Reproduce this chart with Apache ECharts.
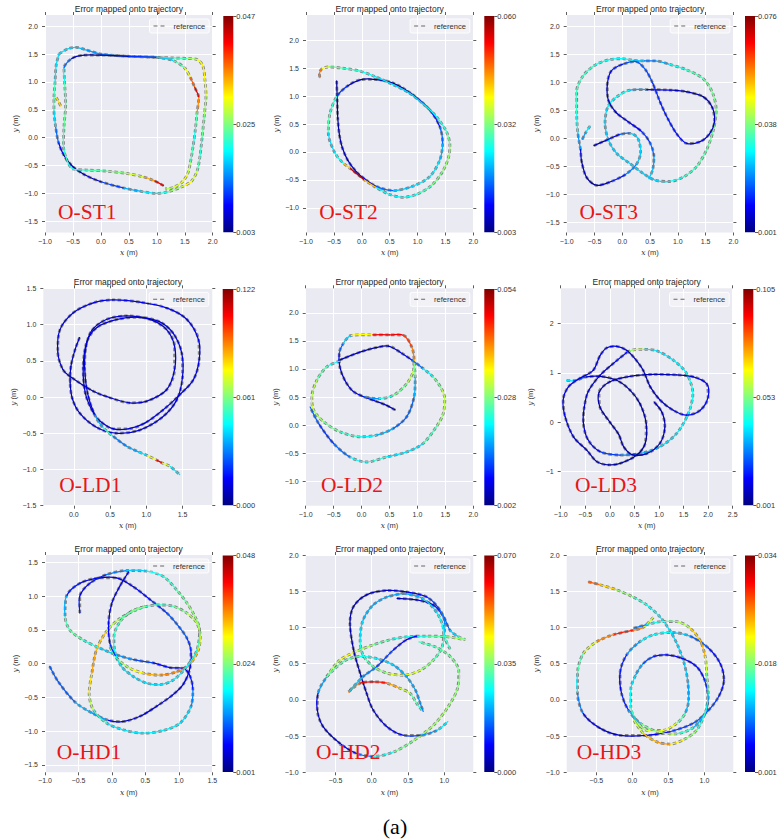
<!DOCTYPE html>
<html><head><meta charset="utf-8">
<script src="https://cdn.jsdelivr.net/npm/echarts@6/dist/echarts.min.js"></script>
<style>html,body{margin:0;padding:0;background:#fff}#c{width:781px;height:839px}</style>
</head><body><div id="c"></div>
<script>
// ---------------- DATA ----------------
const xRangeST1=[-1,2], yRangeST1=[-1.7,2.2];
const xTicksST1=[-1,-0.5,0,0.5,1,1.5,2], yTicksST1=[-1.5,-1,-0.5,0,0.5,1,1.5,2];
const cbRangeST1=[0.003,0.047], cbLabelsST1=['0.003','0.025','0.047'];
const trajST1=[
 [[-0.75,1.5,.018],[-0.6,1.59,.018],[-0.45,1.62,.017],[-0.25,1.57,.016],[0.0,1.5,.014],[0.5,1.46,.015],[1.0,1.44,.018],[1.3,1.43,.021],[1.55,1.42,.024],[1.72,1.4,.029],[1.82,1.3,.031],[1.86,1.05,.031],[1.88,0.75,.028],[1.85,0.4,.025],[1.81,0.0,.023],[1.77,-0.35,.02],[1.72,-0.6,.026],[1.62,-0.78,.031],[1.45,-0.88,.03],[1.2,-0.97,.022],[1.0,-1.0,.019],[0.7,-0.96,.018],[0.4,-0.9,.014],[0.0,-0.79,.008],[-0.3,-0.66,.005],[-0.5,-0.52,.004],[-0.66,-0.32,.006],[-0.76,-0.08,.01],[-0.81,0.2,.016],[-0.84,0.5,.02],[-0.84,0.7,.026],[-0.82,1.0,.019],[-0.8,1.3,.018],[-0.75,1.5,.018]],
 [[1.12,-0.86,.047],[0.95,-0.77,.038],[0.75,-0.7,.031],[0.45,-0.64,.026],[0.1,-0.6,.024],[-0.25,-0.58,.022],[-0.5,-0.56,.021],[-0.6,-0.42,.021],[-0.67,-0.15,.022],[-0.66,0.2,.024],[-0.63,0.6,.024],[-0.65,1.0,.022],[-0.66,1.25,.018],[-0.52,1.42,.008],[-0.3,1.48,.004],[0.0,1.48,.004],[0.5,1.46,.006],[1.0,1.44,.015],[1.3,1.38,.02],[1.5,1.25,.026],[1.6,1.08,.034],[1.68,0.9,.041],[1.75,0.72,.045],[1.72,0.45,.026],[1.69,0.15,.02],[1.65,-0.15,.02],[1.6,-0.45,.025],[1.55,-0.65,.03],[1.45,-0.8,.03],[1.3,-0.89,.028],[1.15,-0.92,.026]],
 [[-0.72,0.57,.032],[-0.76,0.65,.033],[-0.8,0.72,.03]]
];

const xRangeST2=[-1,2], yRangeST2=[-1.44,2.45];
const xTicksST2=[-1,-0.5,0,0.5,1,1.5,2], yTicksST2=[-1,-0.5,0,0.5,1,1.5,2];
const cbRangeST2=[0.003,0.060], cbLabelsST2=['0.003','0.032','0.060'];
const trajST2=[
 [[-0.45,1.27,.004],[-0.44,0.93,.004],[-0.43,0.6,.005],[-0.4,0.3,.005],[-0.35,0.08,.006],[-0.25,-0.15,.007],[-0.1,-0.35,.008],[0.05,-0.48,.008],[0.27,-0.62,.012],[0.57,-0.69,.02],[0.92,-0.61,.022],[1.22,-0.44,.024],[1.4,-0.14,.022],[1.45,0.16,.018],[1.4,0.45,.014],[1.22,0.75,.008],[0.92,1.02,.005],[0.57,1.23,.005],[0.21,1.3,.005],[-0.03,1.29,.005],[-0.27,1.17,.008],[-0.45,0.99,.018],[-0.57,0.69,.036],[-0.6,0.34,.022],[-0.48,-0.02,.022],[-0.33,-0.2,.028],[-0.2,-0.3,.055],[0.05,-0.5,.058],[0.25,-0.63,.026],[0.5,-0.76,.024],[0.75,-0.81,.024],[1.0,-0.75,.026],[1.25,-0.6,.03],[1.45,-0.35,.032],[1.56,-0.08,.033],[1.58,0.12,.032],[1.52,0.36,.028],[1.34,0.63,.025],[1.1,0.86,.023],[0.86,1.05,.022],[0.57,1.2,.022],[0.21,1.36,.024],[-0.05,1.45,.026],[-0.35,1.5,.028],[-0.6,1.52,.032],[-0.72,1.48,.045],[-0.76,1.4,.048],[-0.75,1.33,.045]]
];

const xRangeST3=[-1,2], yRangeST3=[-1.68,2.2];
const xTicksST3=[-1,-0.5,0,0.5,1,1.5,2], yTicksST3=[-1.5,-1,-0.5,0,0.5,1,1.5,2];
const cbRangeST3=[0.001,0.076], cbLabelsST3=['0.001','0.038','0.076'];
const trajST3=[
 [[-0.75,-0.2,.015],[-0.8,0.1,.028],[-0.82,0.45,.032],[-0.82,0.85,.034],[-0.7,1.12,.034],[-0.5,1.3,.032],[-0.25,1.4,.03],[0.0,1.42,.028],[0.2,1.39,.03],[0.4,1.38,.02],[0.6,1.38,.018],[0.85,1.32,.028],[1.16,1.22,.033],[1.46,1.06,.036],[1.63,0.8,.038],[1.69,0.5,.038],[1.64,0.15,.037],[1.52,-0.2,.036],[1.34,-0.5,.035],[1.1,-0.69,.032],[0.86,-0.77,.028],[0.6,-0.75,.025],[0.38,-0.63,.026],[0.14,-0.45,.026],[-0.1,-0.27,.026],[-0.25,-0.03,.025],[-0.31,0.27,.025],[-0.26,0.56,.027],[-0.1,0.74,.03],[0.14,0.86,.03],[0.44,0.87,.015],[0.86,0.86,.006],[1.16,0.83,.004],[1.46,0.74,.004],[1.62,0.55,.005],[1.66,0.3,.006],[1.57,0.08,.007],[1.4,-0.06,.008],[1.16,-0.09,.01],[0.98,0.08,.012],[0.82,0.35,.012],[0.68,0.65,.012],[0.55,0.98,.014],[0.42,1.22,.016],[0.25,1.37,.018],[0.0,1.32,.014],[-0.2,1.2,.01],[-0.27,0.95,.006],[-0.25,0.68,.005],[-0.12,0.47,.006],[0.1,0.3,.008],[0.35,0.12,.012],[0.5,-0.08,.015],[0.57,-0.32,.02],[0.55,-0.55,.024],[0.48,-0.72,.026]],
 [[-0.51,-0.13,.004],[-0.3,-0.04,.006],[-0.04,0.07,.012],[0.14,0.09,.025],[0.28,0.0,.026],[0.33,-0.25,.026],[0.25,-0.47,.024],[0.05,-0.65,.016],[-0.2,-0.77,.008],[-0.45,-0.84,.004],[-0.64,-0.7,.004],[-0.73,-0.42,.005],[-0.75,-0.2,.01]],
 [[-0.58,0.22,.03],[-0.66,0.1,.025],[-0.72,-0.02,.018]]
];

const xRangeLD1=[-0.42,1.91], yRangeLD1=[-1.5,1.5];
const xTicksLD1=[0,0.5,1,1.5], yTicksLD1=[-1.5,-1,-0.5,0,0.5,1,1.5];
const cbRangeLD1=[0.000,0.122], cbLabelsLD1=['0.000','0.061','0.122'];
const trajLD1=[
 [[0.08,0.82,.008],[0.02,0.66,.008],[-0.04,0.42,.008],[-0.05,0.2,.008],[-0.02,-0.02,.008],[0.08,-0.22,.008],[0.3,-0.41,.01],[0.58,-0.5,.01],[0.9,-0.46,.01],[1.22,-0.28,.01],[1.42,-0.04,.01],[1.5,0.28,.01],[1.49,0.6,.01],[1.37,0.88,.01],[1.18,1.04,.01],[0.9,1.1,.01],[0.6,1.07,.01],[0.32,0.96,.01],[0.18,0.76,.01],[0.13,0.4,.01],[0.16,0.05,.01],[0.26,-0.2,.01],[0.36,-0.33,.01],[0.55,-0.44,.01],[0.75,-0.44,.01],[0.98,-0.36,.012],[1.23,-0.18,.012],[1.46,0.03,.012],[1.65,0.24,.012],[1.73,0.52,.012],[1.72,0.79,.012],[1.56,1.07,.012],[1.28,1.23,.012],[0.91,1.31,.014],[0.54,1.34,.014],[0.27,1.3,.012],[-0.01,1.16,.01],[-0.19,0.93,.01],[-0.22,0.62,.01],[-0.15,0.38,.008],[-0.03,0.27,.006],[0.27,0.08,.006],[0.5,-0.01,.008],[0.77,-0.08,.008],[1.0,-0.06,.008],[1.28,0.1,.01],[1.39,0.38,.01],[1.39,0.7,.01],[1.28,0.93,.01],[1.05,1.07,.01],[0.73,1.12,.01],[0.45,1.07,.01],[0.25,0.92,.01],[0.17,0.7,.01],[0.15,0.4,.01],[0.19,0.05,.01],[0.29,-0.25,.012],[0.4,-0.42,.06],[0.54,-0.54,.045],[0.73,-0.68,.015],[0.9,-0.76,.055],[1.02,-0.81,.03],[1.14,-0.87,.12],[1.22,-0.91,.1],[1.33,-0.96,.045],[1.46,-1.07,.04]]
];

const xRangeLD2=[-1,2], yRangeLD2=[-1.44,2.44];
const xTicksLD2=[-1,-0.5,0,0.5,1,1.5,2], yTicksLD2=[-1,-0.5,0,0.5,1,1.5,2];
const cbRangeLD2=[0.002,0.054], cbLabelsLD2=['0.002','0.028','0.054'];
const trajLD2=[
 [[0.6,0.27,.004],[0.45,0.35,.004],[0.27,0.42,.006],[0.05,0.5,.008],[-0.15,0.6,.006],[-0.3,0.8,.005],[-0.39,1.04,.006],[-0.4,1.28,.01],[-0.33,1.45,.016],[-0.18,1.6,.022],[0.2,1.61,.047],[0.5,1.61,.049],[0.75,1.6,.047],[0.9,1.39,.042],[0.94,1.16,.04],[0.93,0.98,.034],[0.81,0.74,.028],[0.57,0.53,.026],[0.3,0.47,.02],[0.05,0.5,.012]],
 [[-0.39,1.14,.02],[-0.62,1.04,.024],[-0.8,0.8,.028],[-0.89,0.5,.033],[-0.86,0.27,.031],[-0.68,0.06,.028],[-0.39,-0.12,.026],[-0.03,-0.21,.022],[0.27,-0.18,.02],[0.57,-0.06,.015],[0.81,0.15,.012],[0.94,0.5,.015],[0.96,0.86,.02],[0.94,1.1,.035]],
 [[-0.39,1.16,.006],[-0.03,1.3,.005],[0.25,1.38,.004],[0.48,1.41,.004],[0.69,1.3,.006],[0.9,1.16,.01],[1.1,1.01,.018],[1.28,0.86,.024],[1.43,0.65,.03],[1.49,0.47,.032],[1.46,0.2,.03],[1.34,-0.03,.028],[1.1,-0.33,.022],[0.81,-0.48,.018],[0.45,-0.57,.022],[0.09,-0.66,.025],[-0.21,-0.57,.018],[-0.5,-0.33,.01],[-0.77,0.03,.012],[-0.92,0.32,.015]]
];

const xRangeLD3=[-1,2.5], yRangeLD3=[-1.7,2.72];
const xTicksLD3=[-1,-0.5,0,0.5,1,1.5,2,2.5], yTicksLD3=[-1,0,1,2];
const cbRangeLD3=[0.001,0.105], cbLabelsLD3=['0.001','0.053','0.105'];
const trajLD3=[
 [[0.35,1.42,.03],[0.48,1.47,.08],[0.7,1.48,.04],[0.95,1.45,.036],[1.29,1.26,.038],[1.56,0.99,.04],[1.69,0.58,.042],[1.6,0.18,.04],[1.36,-0.23,.038],[1.02,-0.5,.035],[0.61,-0.64,.03],[0.21,-0.67,.025],[-0.2,-0.6,.015],[-0.45,-0.35,.01],[-0.54,0.0,.008],[-0.52,0.3,.008],[-0.44,0.62,.008],[-0.2,0.95,.008],[0.14,1.25,.01],[0.35,1.42,.02]],
 [[-0.88,0.85,.04],[-0.74,0.84,.035],[-0.47,0.92,.01],[-0.2,0.93,.005],[0.14,0.85,.004],[0.41,0.65,.004],[0.61,0.38,.004],[0.74,-0.03,.004],[0.72,-0.43,.004],[0.55,-0.67,.004],[0.21,-0.84,.004],[-0.03,-0.87,.004],[-0.27,-0.8,.005],[-0.47,-0.57,.006],[-0.74,-0.3,.008],[-0.91,0.11,.01],[-0.95,0.45,.012],[-0.84,0.72,.012],[-0.61,0.89,.01],[-0.34,1.05,.01],[-0.2,1.35,.012],[-0.06,1.51,.012],[0.14,1.54,.012],[0.34,1.46,.01],[0.51,1.29,.008],[0.68,1.05,.006],[0.82,0.72,.006],[1.02,0.45,.008],[1.29,0.24,.01],[1.56,0.14,.015],[1.84,0.24,.015],[2.0,0.51,.015],[1.97,0.78,.012],[1.7,0.92,.01],[1.36,0.96,.008],[0.89,0.97,.006],[0.41,0.93,.006],[0.0,0.82,.006],[-0.22,0.6,.005],[-0.2,0.3,.004],[0.0,0.0,.004],[0.18,-0.25,.004],[0.28,-0.5,.004],[0.45,-0.66,.005],[0.75,-0.64,.006],[1.02,-0.43,.006],[1.12,-0.1,.006],[1.06,0.2,.006],[0.9,0.41,.006]]
];

const xRangeHD1=[-1,1.5], yRangeHD1=[-1.61,1.61];
const xTicksHD1=[-1,-0.5,0,0.5,1,1.5], yTicksHD1=[-1.5,-1,-0.5,0,0.5,1,1.5];
const cbRangeHD1=[0.001,0.048], cbLabelsHD1=['0.001','0.024','0.048'];
const trajHD1=[
 [[-0.93,-0.04,.012],[-0.8,-0.27,.01],[-0.55,-0.57,.012],[-0.3,-0.73,.018],[-0.05,-0.84,.01],[0.15,-0.86,.004],[0.42,-0.78,.004],[0.67,-0.63,.005],[0.9,-0.47,.005],[1.07,-0.3,.006],[1.17,-0.05,.006],[1.18,0.2,.008],[1.12,0.38,.01],[1.0,0.55,.012],[0.82,0.75,.01],[0.57,0.95,.008],[0.32,1.14,.006],[0.07,1.27,.005],[-0.18,1.27,.005],[-0.48,1.19,.006],[-0.68,1.0,.01],[-0.7,0.7,.02],[-0.63,0.5,.024],[-0.43,0.35,.022],[-0.18,0.23,.018],[0.07,0.13,.015],[0.32,0.06,.012],[0.62,0.01,.008],[0.87,-0.06,.006],[1.07,-0.07,.005],[1.17,-0.19,.006],[1.21,-0.39,.01],[1.18,-0.64,.016],[1.02,-0.88,.018],[0.77,-0.99,.018],[0.47,-1.03,.018],[0.17,-0.98,.017],[-0.08,-0.88,.018],[-0.28,-0.68,.024],[-0.34,-0.44,.03],[-0.3,-0.14,.033],[-0.23,0.21,.036],[-0.08,0.48,.03],[0.12,0.67,.024],[0.42,0.82,.022],[0.67,0.87,.02],[0.92,0.85,.022],[1.12,0.75,.026],[1.27,0.6,.028],[1.32,0.4,.028],[1.29,0.2,.03],[1.17,0.0,.036],[0.97,-0.12,.036],[0.72,-0.17,.036],[0.47,-0.14,.032],[0.27,-0.07,.028],[0.07,0.08,.024],[-0.03,0.25,.022]],
 [[-0.48,0.75,.01],[-0.48,1.0,.006],[-0.33,1.19,.006],[-0.08,1.32,.01],[0.22,1.38,.015],[0.52,1.37,.018],[0.77,1.29,.02],[0.97,1.09,.022],[1.12,0.9,.024],[1.24,0.7,.026],[1.31,0.5,.024],[1.27,0.2,.02],[1.12,-0.04,.018],[0.92,-0.24,.018],[0.72,-0.31,.017],[0.52,-0.29,.017],[0.32,-0.19,.017],[0.15,-0.05,.017],[0.05,0.15,.018],[0.03,0.4,.02],[0.12,0.62,.022],[0.3,0.78,.024],[0.5,0.85,.025]],
 [[0.25,1.36,.006],[0.12,1.15,.005],[0.0,0.9,.005],[-0.05,0.6,.006],[-0.03,0.3,.008],[0.05,0.12,.01]]
];

const xRangeHD2=[-0.91,1.4], yRangeHD2=[-1,2];
const xTicksHD2=[-0.5,0,0.5,1], yTicksHD2=[-1,-0.5,0,0.5,1,1.5,2];
const cbRangeHD2=[0.000,0.070], cbLabelsHD2=['0.000','0.035','0.070'];
const trajHD2=[
 [[0.35,1.4,.003],[0.62,1.38,.004],[0.85,1.31,.008],[0.99,1.15,.012],[1.08,0.96,.018],[1.2,0.87,.028],[1.29,0.83,.04],[1.05,0.87,.035],[0.76,0.88,.03],[0.48,0.87,.026],[0.25,0.83,.03],[0.02,0.76,.035],[-0.21,0.67,.04],[-0.44,0.55,.046],[-0.62,0.32,.03],[-0.74,0.09,.01],[-0.75,-0.14,.005],[-0.67,-0.37,.003],[-0.44,-0.6,.004],[-0.21,-0.74,.01],[0.02,-0.78,.022],[0.3,-0.72,.032],[0.58,-0.56,.036],[0.85,-0.35,.038],[1.05,-0.1,.036],[1.18,0.15,.036],[1.2,0.4,.035],[1.08,0.6,.034],[0.88,0.73,.032],[0.65,0.8,.03]],
 [[1.08,0.7,.035],[1.0,0.9,.025],[1.01,1.05,.02],[0.94,1.24,.015],[0.76,1.42,.01],[0.48,1.49,.006],[0.21,1.51,.004],[-0.07,1.45,.003],[-0.25,1.29,.003],[-0.3,1.06,.003],[-0.25,0.69,.003],[-0.16,0.37,.003],[-0.07,0.09,.003],[0.02,-0.14,.004],[0.21,-0.37,.006],[0.44,-0.49,.01],[0.67,-0.49,.015],[0.9,-0.42,.022],[1.05,-0.3,.028]],
 [[0.44,1.47,.02],[0.7,1.4,.022],[0.9,1.2,.025],[0.99,0.95,.028],[0.97,0.73,.03],[0.85,0.55,.033],[0.67,0.41,.038],[0.44,0.34,.044],[0.21,0.37,.038],[0.02,0.46,.033],[-0.12,0.62,.03],[-0.16,0.83,.026],[-0.12,1.1,.022],[0.02,1.31,.02],[0.21,1.42,.02],[0.44,1.47,.02]],
 [[-0.32,0.11,.045],[-0.16,0.23,.06],[0.02,0.25,.065],[0.21,0.23,.055],[0.39,0.16,.045],[0.53,0.09,.035],[0.62,-0.05,.03],[0.69,-0.14,.028]],
 [[-0.62,0.32,.03],[-0.39,0.53,.035],[-0.16,0.6,.03],[0.07,0.57,.025],[0.3,0.48,.022],[0.48,0.32,.02],[0.6,0.14,.02],[0.67,-0.05,.018],[0.71,-0.16,.018]],
 [[-0.3,0.13,.025],[-0.12,0.32,.02],[0.07,0.46,.015],[0.3,0.69,.01],[0.48,0.83,.008],[0.62,0.88,.01]]
];

const xRangeHD3=[-0.91,1.4], yRangeHD3=[-1,2];
const xTicksHD3=[-0.5,0,0.5,1], yTicksHD3=[-1,-0.5,0,0.5,1,1.5,2];
const cbRangeHD3=[0.001,0.034], cbLabelsHD3=['0.001','0.018','0.034'];
const trajHD3=[
 [[-0.61,1.63,.028],[-0.45,1.59,.026],[-0.22,1.52,.02],[0.01,1.42,.016],[0.2,1.31,.014],[0.38,1.15,.013],[0.52,0.96,.012],[0.63,0.75,.012],[0.72,0.5,.012],[0.77,0.25,.011],[0.78,0.0,.01],[0.73,-0.19,.012],[0.62,-0.32,.02],[0.43,-0.42,.022],[0.2,-0.42,.02],[0.06,-0.3,.017],[-0.02,-0.1,.014],[-0.02,0.15,.013],[0.05,0.35,.012],[0.15,0.5,.009],[0.3,0.6,.006],[0.48,0.62,.005],[0.7,0.57,.005],[0.89,0.46,.005],[1.0,0.28,.006],[1.05,0.05,.007],[1.03,-0.14,.008]],
 [[0.29,1.14,.018],[0.15,1.0,.022],[0.0,0.96,.03],[-0.26,0.9,.028],[-0.5,0.8,.023],[-0.68,0.64,.018],[-0.76,0.37,.014],[-0.76,0.09,.012],[-0.68,-0.19,.006],[-0.45,-0.39,.003],[-0.17,-0.49,.003],[0.2,-0.49,.004],[0.52,-0.44,.006],[0.85,-0.32,.008],[1.05,-0.15,.008],[1.2,0.05,.006],[1.27,0.27,.005],[1.22,0.5,.005],[1.05,0.72,.006],[0.8,0.88,.01],[0.55,0.93,.013],[0.3,0.9,.014],[0.1,0.8,.012],[-0.08,0.62,.008],[-0.17,0.37,.004],[-0.15,0.09,.004],[-0.05,-0.15,.008],[0.12,-0.33,.014],[0.35,-0.44,.02],[0.6,-0.47,.018],[0.85,-0.38,.012],[1.0,-0.2,.01]],
 [[0.02,0.99,.006],[0.2,1.04,.012],[0.4,1.08,.016],[0.62,1.08,.018],[0.8,0.99,.02],[0.94,0.82,.026],[1.01,0.6,.022],[1.03,0.37,.018],[1.05,0.1,.015],[1.02,-0.15,.013],[0.89,-0.42,.016],[0.71,-0.55,.02],[0.52,-0.61,.024],[0.34,-0.58,.026],[0.15,-0.46,.022],[0.02,-0.28,.018]]
];

const panelNames=['O-ST1','O-ST2','O-ST3','O-LD1','O-LD2','O-LD3','O-HD1','O-HD2','O-HD3'];
const titleText='Error mapped onto trajectory';
const legendName='reference';
const captionText='(a)';

// ---------------- LAYOUT (positions / sizes only) ----------------
const W=781;
const layout=[
 {g:[45,15,167.7,217.5],   c:[223.3,16,10,216.3],  lab:13,   yd:1},
 {g:[306,15,167.3,217.5],  c:[484.3,16,10,216.3],  lab:13.3, yd:1},
 {g:[566.7,15,166.7,217.5],c:[745,16,10,216.3],    lab:12.7, yd:1},
 {g:[43.3,288.3,169,217.4],c:[222.7,289,10.6,216.3],lab:16,  yd:1},
 {g:[305.7,288.3,167.6,217.4],c:[484.3,289,10,216.3],lab:15.3,yd:1},
 {g:[560.7,288.3,172,217.4],c:[743.3,289,10,216.3],lab:14.3, yd:0},
 {g:[45,555,167.3,217.3],  c:[222.7,555.5,10.6,216.5],lab:11.7,yd:1},
 {g:[305.7,555,167.6,217.3],c:[484.3,555.5,10,216.5],lab:10.3,yd:1},
 {g:[566.7,555,166.6,217.3],c:[745,555.5,10,216.5], lab:10,  yd:1}
];
const panelData=[
 [trajST1,xRangeST1,yRangeST1,xTicksST1,yTicksST1,cbRangeST1,cbLabelsST1],
 [trajST2,xRangeST2,yRangeST2,xTicksST2,yTicksST2,cbRangeST2,cbLabelsST2],
 [trajST3,xRangeST3,yRangeST3,xTicksST3,yTicksST3,cbRangeST3,cbLabelsST3],
 [trajLD1,xRangeLD1,yRangeLD1,xTicksLD1,yTicksLD1,cbRangeLD1,cbLabelsLD1],
 [trajLD2,xRangeLD2,yRangeLD2,xTicksLD2,yTicksLD2,cbRangeLD2,cbLabelsLD2],
 [trajLD3,xRangeLD3,yRangeLD3,xTicksLD3,yTicksLD3,cbRangeLD3,cbLabelsLD3],
 [trajHD1,xRangeHD1,yRangeHD1,xTicksHD1,yTicksHD1,cbRangeHD1,cbLabelsHD1],
 [trajHD2,xRangeHD2,yRangeHD2,xTicksHD2,yTicksHD2,cbRangeHD2,cbLabelsHD2],
 [trajHD3,xRangeHD3,yRangeHD3,xTicksHD3,yTicksHD3,cbRangeHD3,cbLabelsHD3]
];

const FONT='"Liberation Sans", Arial, sans-serif';
const SERIF='"Liberation Serif", "Times New Roman", serif';
const TXT='#333';
const REF='rgba(70,70,70,0.62)';

function jet(t){
  t=Math.max(0,Math.min(1,t));
  const c=v=>Math.round(255*Math.max(0,Math.min(1,v)));
  return 'rgb('+c(1.5-Math.abs(4*t-3))+','+c(1.5-Math.abs(4*t-2))+','+c(1.5-Math.abs(4*t-1))+')';
}
const jetStops=[0,0.125,0.25,0.375,0.5,0.625,0.75,0.875,1].map(t=>({offset:t,color:jet(t)}));
const fmt=(v,d)=>(v<0?'\u2212':'')+Math.abs(v).toFixed(d);

function makeSeg(pts,rng){
  return function(params,api){
    const i=params.dataIndex, n=pts.length;
    if(i>=n-1) return null;
    const c=k=>api.coord([pts[k][0],pts[k][1]]);
    const P0=c(Math.max(i-1,0)),P1=c(i),P2=c(i+1),P3=c(Math.min(i+2,n-1));
    const t=((pts[i][2]+pts[i+1][2])/2-rng[0])/(rng[1]-rng[0]);
    return {type:'bezierCurve',
      shape:{x1:P1[0],y1:P1[1],x2:P2[0],y2:P2[1],
        cpx1:P1[0]+(P2[0]-P0[0])/6,cpy1:P1[1]+(P2[1]-P0[1])/6,
        cpx2:P2[0]-(P3[0]-P1[0])/6,cpy2:P2[1]-(P3[1]-P1[1])/6},
      style:{stroke:jet(t),lineWidth:1.25,fill:'none',lineCap:'round'}};
  };
}

const grid=[],xAxis=[],yAxis=[],series=[],legend=[],graphic=[];
const nameStyle={fontSize:7.5,color:TXT,fontFamily:FONT,
  rich:{i:{fontStyle:'italic',fontFamily:'"DejaVu Serif", serif',fontSize:7.5,color:TXT}}};

layout.forEach((L,idx)=>{
  const [traj,xr,yr,xt,yt,cb,cbl]=panelData[idx];
  const gi=grid.length;
  grid.push({left:L.g[0],top:L.g[1],width:L.g[2],height:L.g[3],show:true,backgroundColor:'#EAEAF2',borderWidth:0});
  const xb=xAxis.length;
  [['bottom',true],['top',false]].forEach(([pos,main])=>{
    xAxis.push({type:'value',gridIndex:gi,position:pos,min:xr[0],max:xr[1],
      name:main?'{i|x} (m)':'',nameLocation:'middle',nameGap:16,nameTextStyle:nameStyle,
      axisLine:{show:false,onZero:false},
      axisTick:{show:true,inside:false,length:3,customValues:xt,lineStyle:{color:TXT,width:0.8}},
      axisLabel:{show:main,customValues:xt,formatter:v=>fmt(v,1),fontSize:7,color:TXT,margin:5,fontFamily:FONT},
      splitLine:{show:main,lineStyle:{color:'#ffffff',width:1}}});
  });
  const yb=yAxis.length;
  [['left',true],['right',false]].forEach(([pos,main])=>{
    yAxis.push({type:'value',gridIndex:gi,position:pos,min:yr[0],max:yr[1],
      name:main?'{i|y} (m)':'',nameLocation:'middle',nameGap:26,nameRotate:90,nameTextStyle:nameStyle,
      axisLine:{show:false,onZero:false},
      axisTick:{show:true,inside:false,length:3,customValues:yt,lineStyle:{color:TXT,width:0.8}},
      axisLabel:{show:main,customValues:yt,formatter:v=>fmt(v,L.yd),fontSize:7,color:TXT,margin:7,fontFamily:FONT},
      splitLine:{show:main,lineStyle:{color:'#ffffff',width:1}}});
  });
  // colorbar
  const ci=grid.length;
  grid.push({left:L.c[0],top:L.c[1],width:L.c[2],height:L.c[3],show:false});
  const cx=xAxis.length;
  xAxis.push({type:'value',gridIndex:ci,min:0,max:1,show:false,axisLine:{onZero:false}});
  const cy=yAxis.length;
  yAxis.push({type:'value',gridIndex:ci,min:0,max:1,position:'right',
    axisLine:{show:false,onZero:false},splitLine:{show:false},
    axisTick:{show:true,length:3,customValues:[0,0.5,1],lineStyle:{color:TXT,width:0.8}},
    axisLabel:{customValues:[0,0.5,1],formatter:v=>cbl[Math.round(v*2)],fontSize:7.5,color:TXT,margin:3,fontFamily:FONT}});
  series.push({type:'custom',xAxisIndex:cx,yAxisIndex:cy,data:[[0.5,0.5]],silent:true,z:2,
    renderItem:(params)=>{const cs=params.coordSys;
      return {type:'rect',shape:{x:cs.x,y:cs.y,width:cs.width,height:cs.height},
        style:{fill:new echarts.graphic.LinearGradient(0,1,0,0,jetStops)}};}});
  // reference (dashed, beneath) + error-coloured trajectory (on top)
  traj.forEach(stroke=>{
    series.push({type:'line',name:legendName,xAxisIndex:xb,yAxisIndex:yb,data:stroke.map(q=>[q[0],q[1]]),
      smooth:0.3,showSymbol:false,symbol:'none',silent:true,z:3,color:REF,
      lineStyle:{color:REF,width:2.8,type:[3.5,2.5]}});
    series.push({type:'custom',xAxisIndex:xb,yAxisIndex:yb,data:stroke,renderItem:makeSeg(stroke,cb),z:4,silent:true});
  });
  legend.push({data:[{name:legendName,icon:'path://M0,0H4V1H0Z M7,0H11V1H7Z'}],
    right:W-(L.g[0]+L.g[2])+3.5,top:L.g[1]+4,selectedMode:false,
    itemWidth:11,itemHeight:1.4,padding:[3,4,3,4],
    backgroundColor:'rgba(255,255,255,0.35)',borderColor:'rgba(255,255,255,0.9)',borderWidth:1,borderRadius:2,
    itemStyle:{color:'rgba(80,80,80,0.85)'},
    textStyle:{fontSize:7.5,color:TXT,fontFamily:FONT,padding:[0,0,0,4]}});
  graphic.push({type:'text',x:L.g[0]+L.g[2]/2,y:L.g[1]-1.5,silent:true,
    style:{text:titleText,fontSize:8.5,fontFamily:FONT,fill:'#262626',align:'center',verticalAlign:'bottom'}});
  graphic.push({type:'text',x:L.g[0]+L.lab,y:L.g[1]+L.g[3]-20.5,silent:true,z:100,
    style:{text:panelNames[idx],fontSize:21.5,fontFamily:SERIF,fill:'#e81616',align:'left',verticalAlign:'middle',
      shadowColor:'rgba(255,255,255,0.95)',shadowBlur:10}});
});
graphic.push({type:'text',x:395,y:826,silent:true,
  style:{text:captionText,fontSize:22,fontFamily:SERIF,fill:'#000',align:'center',verticalAlign:'middle'}});

const chart=echarts.init(document.getElementById('c'),null,{renderer:'svg',width:781,height:839});
chart.setOption({animation:false,backgroundColor:'#ffffff',grid,xAxis,yAxis,series,legend,graphic});
</script></body></html>
